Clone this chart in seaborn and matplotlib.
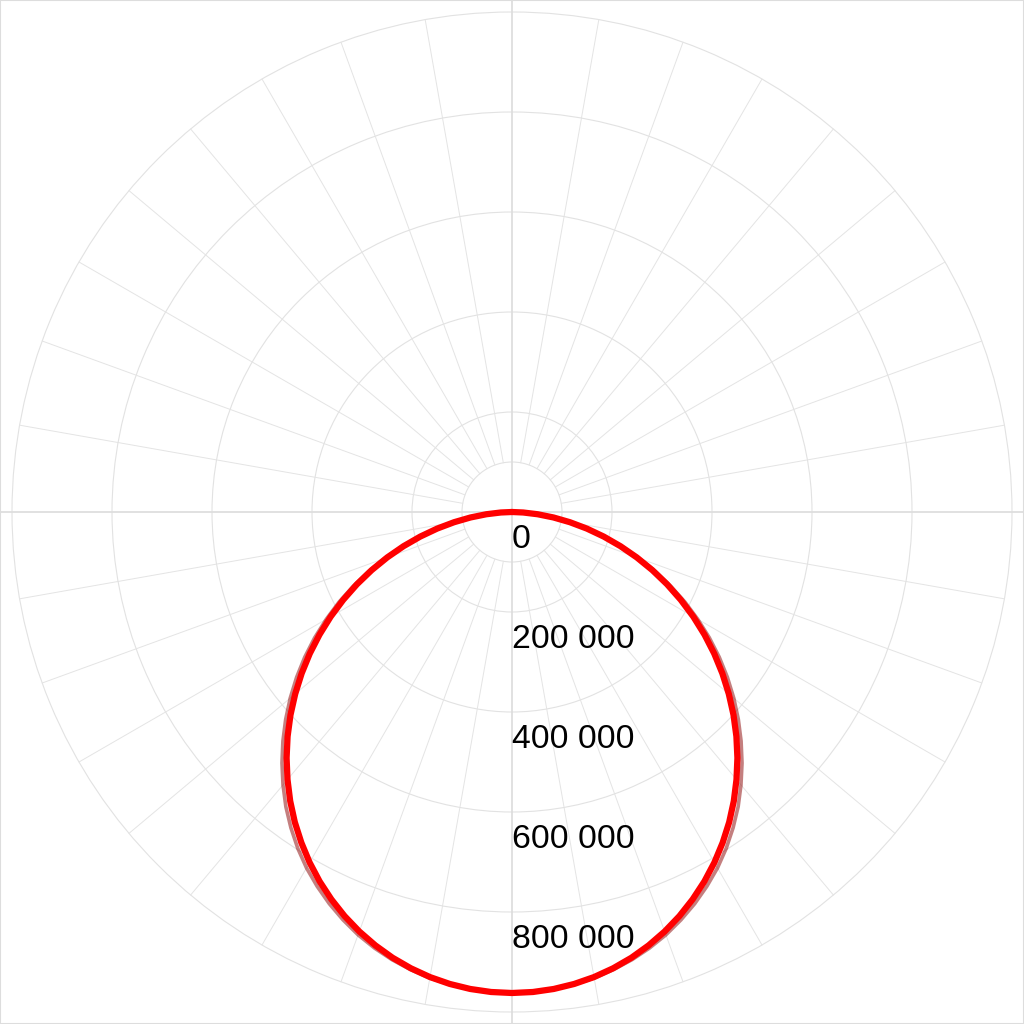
import numpy as np
import pandas as pd
import seaborn as sns
import matplotlib.pyplot as plt
from matplotlib.patches import Rectangle

sns.set_style("white")
plt.rcParams['font.family'] = ['Liberation Sans', 'DejaVu Sans']

# luminous intensity vs angle from nadir, 0..90 deg in 2.5 deg steps
# (curves are symmetric, the other half is mirrored below)
half_angles = [0, 2.5, 5, 7.5, 10, 12.5, 15, 17.5, 20, 22.5, 25, 27.5, 30,
               32.5, 35, 37.5, 40, 42.5, 45, 47.5, 50, 52.5, 55, 57.5, 60,
               62.5, 65, 67.5, 70, 72.5, 75, 77.5, 80, 82.5, 85, 87.5, 90]
c0_180_half = [962000, 960900, 957600, 952100, 944500, 934700, 922900, 908800,
               892800, 874800, 854800, 833100, 809500, 784100, 757300, 728700,
               698500, 667300, 634700, 600900, 566000, 530300, 493800, 456500,
               418800, 380600, 342200, 303800, 265500, 227500, 190000, 153300,
               117600, 83600, 51400, 22400, 0]
c90_270_half = [962000, 961000, 958000, 953000, 946500, 937500, 927000, 914500,
                900000, 883000, 864500, 844000, 822000, 797500, 771000, 743000,
                712500, 681000, 648000, 614000, 579000, 543000, 506000, 468000,
                429000, 390000, 350000, 310500, 270500, 231000, 193000, 155000,
                119000, 84000, 52000, 22000, 0]
ring_values = [100000, 200000, 400000, 600000, 800000, 1000000]
label_values = [0, 200000, 400000, 600000, 800000]
label_texts = ["0", "200 000", "400 000", "600 000", "800 000"]

angles = [-a for a in half_angles[::-1]] + half_angles[1:]
c0_180 = c0_180_half[::-1] + c0_180_half[1:]
c90_270 = c90_270_half[::-1] + c90_270_half[1:]

df = pd.DataFrame({
    "theta": np.deg2rad(angles * 2),
    "value": c90_270 + c0_180,
    "plane": ["C90-270"] * len(angles) + ["C0-180"] * len(angles),
})

fig = plt.figure(figsize=(10.24, 10.24), dpi=100)
ax = fig.add_axes([0, 0, 1, 1], projection='polar')
ax.set_theta_zero_location('S')
ax.set_ylim(0, 1024000)

# grid: rings + spokes every 10 degrees
ax.set_yticks(ring_values)
ax.set_yticklabels([])
ax.set_xticks([])
ax.yaxis.grid(True, color='#e2e2e2', lw=0.8)
ax.xaxis.grid(False)
ax.spines['polar'].set_visible(False)
for a in range(0, 360, 10):
    t = np.deg2rad(a)
    if a % 90 == 0:
        ax.plot([t, t], [0, 1024000], color='#dcdcdc', lw=1.2, zorder=1)
    else:
        ax.plot([t, t], [100000, 1000000], color='#e4e4e4', lw=0.7, zorder=1)

sns.lineplot(data=df[df.plane == "C90-270"], x="theta", y="value", sort=False,
             estimator=None, color='#8b0000', alpha=0.5, lw=2.6, ax=ax, legend=False)
sns.lineplot(data=df[df.plane == "C0-180"], x="theta", y="value", sort=False,
             estimator=None, color='#ff0000', lw=4.5, ax=ax, legend=False)
ax.set_xlabel("")
ax.set_ylabel("")

for v, s in zip(label_values, label_texts):
    ax.annotate(s, xy=(0, v), xytext=(0, -26), textcoords='offset points',
                ha='left', va='baseline', fontsize=24.3, color='black', zorder=5)

fig.patches.append(Rectangle((0, 0), 1, 1, transform=fig.transFigure,
                             fill=False, edgecolor='#dddddd', lw=1.5))

fig.savefig("out.png", dpi=100)
